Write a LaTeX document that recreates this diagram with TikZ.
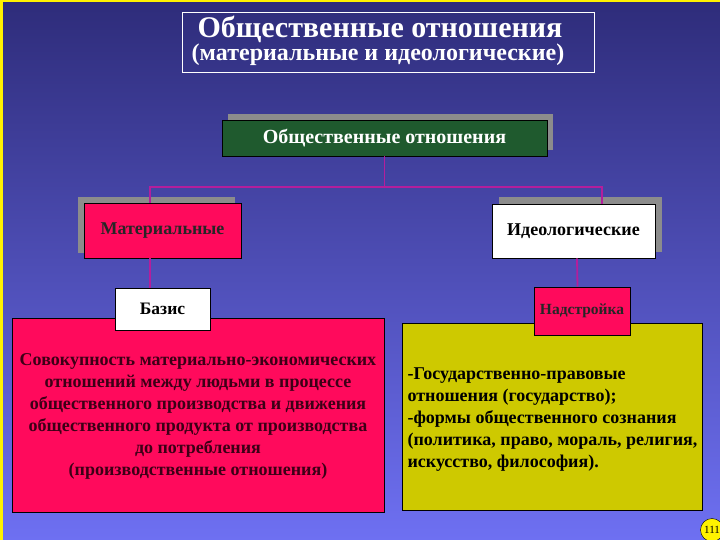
\documentclass[tikz,border=0pt]{standalone}
\usepackage{fontspec}
\setmainfont{Liberation Serif}
\usetikzlibrary{positioning}

\definecolor{bgTop}{HTML}{2E2C7A}
\definecolor{bgBottom}{HTML}{6E70F2}
\definecolor{hotPink}{HTML}{FF0A5C}
\definecolor{olive}{HTML}{CEC900}
\definecolor{forest}{HTML}{1F5A2E}
\definecolor{linkColor}{HTML}{B41E9C}
\definecolor{maroon}{HTML}{3C0016}

\begin{document}
\begin{tikzpicture}
        [x=1pt, y=-1pt,
        box/.style={rectangle, draw=black, thick, inner sep=3pt, font=\bfseries},
        shadowBox/.style={rectangle, fill=black!45, draw=none},
        link/.style={draw=linkColor, line width=1.8pt},
        bigText/.style={font=\fontsize{18}{22}\selectfont\bfseries}]
%
%% Background and frame
%%
\useasboundingbox (0,0) rectangle (720,540);
\shade[top color=bgTop, bottom color=bgBottom] (0,0) rectangle (720,540);
\fill[yellow] (0,0) rectangle (720,2);
\fill[yellow] (0,0) rectangle (3,540);
%%
%% Title
%%
\node[draw=white, thick, minimum width=412, minimum height=60] (title) at (388,42) {};
\node[text=white, font=\fontsize{30}{30}\selectfont\bfseries] (titleA) at (380,29) {Общественные отношения};
\node[text=white, font=\fontsize{24}{24}\selectfont\bfseries] (titleB) at (378,55) {(материальные и идеологические)};
%%
%% Shadows
%%
\node[shadowBox, minimum width=325, minimum height=36] (greenShadow) at (390.5,132) {};
\node[shadowBox, minimum width=157, minimum height=55] (matShadow) at (156.5,225) {};
\node[shadowBox, minimum width=163, minimum height=54] (ideoShadow) at (580,224.5) {};
%%
%% Upper boxes
%%
\node[box, fill=forest, text=white, font=\fontsize{20}{20}\selectfont\bfseries,
      minimum width=325, minimum height=36] (relations) at (384.5,138) {Общественные отношения};
\node[box, fill=hotPink, text=black!85, font=\fontsize{18}{18}\selectfont\bfseries,
      minimum width=157, minimum height=55] (material) at (162.5,230.5) {Материальные};
\node[box, fill=white, text=black, font=\fontsize{18}{18}\selectfont\bfseries,
      minimum width=163, minimum height=54] (ideological) at (573.5,231) {Идеологические};
%%
%% Connectors
%%
\draw[link] (relations.south) -- ++(0,31) coordinate (fork);
\draw[link] (fork) -| ([xshift=-12.5]material.north);
\draw[link] (fork) -| ([xshift=28.5]ideological.north);
%%
%% Lower boxes
%%
\node[box, fill=hotPink, minimum width=372, minimum height=194] (basisText) at (198,415) {};
\node[box, fill=olive, minimum width=300, minimum height=187] (superText) at (552,416.5) {};
\node[bigText, text=maroon, align=center] (basisBody) at (198,416) {Совокупность материально-экономических\\
отношений между людьми в процессе\\
общественного производства и движения\\
общественного продукта от производства\\
до потребления\\
(производственные отношения)};
\node[bigText, text=black, align=left, anchor=west] (superBody) at (404,420) {-Государственно-правовые\\
отношения (государство);\\
-формы общественного сознания\\
(политика, право, мораль, религия,\\
искусство, философия).};
\node[box, fill=white, text=black, font=\fontsize{17.5}{17.5}\selectfont\bfseries,
      minimum width=95, minimum height=42] (basis) at (162.5,309) {Базис};
\node[box, fill=hotPink, text=black!85, font=\fontsize{15.5}{15.5}\selectfont\bfseries,
      minimum width=96, minimum height=48] (superstructure) at (582,311) {Надстройка};
\draw[link] ([xshift=-12.5]material.south) -- ([xshift=-12.5]basis.north);
\draw[link] ([xshift=3.5]ideological.south) -- ([xshift=-4.5]superstructure.north);
%%
%% Page number
%%
\node[circle, draw=black, fill=yellow, inner sep=0pt, minimum size=23,
      font=\fontsize{11}{11}\selectfont] (pageNo) at (712,530) {111};
\end{tikzpicture}
\end{document}
